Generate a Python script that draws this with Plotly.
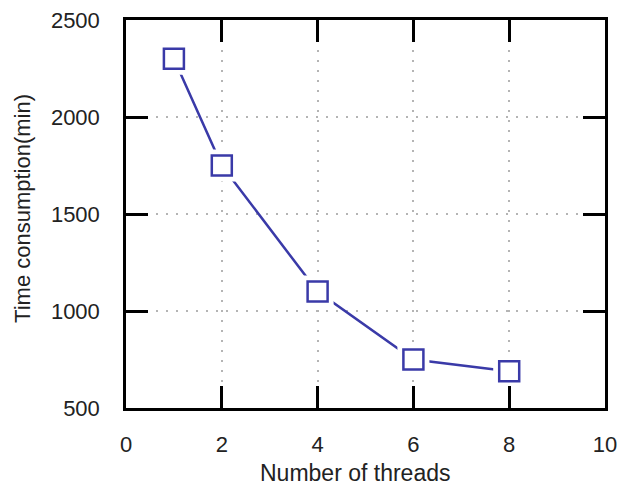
import plotly.graph_objects as go

threads = [1, 2, 4, 6, 8]
time_min = [2300, 1750, 1100, 750, 690]
x_ticks = [0, 2, 4, 6, 8, 10]
y_ticks = [500, 1000, 1500, 2000, 2500]
x_title = "Number of threads"
y_title = "Time consumption(min)"

color = "#3a3aa8"
fig = go.Figure()
fig.add_trace(go.Scatter(x=threads, y=time_min, mode="lines",
                         line=dict(color=color, width=2.5), hoverinfo="skip"))
fig.add_trace(go.Scatter(x=threads, y=time_min, mode="markers",
                         marker=dict(symbol="square", size=32, color="white",
                                     line=dict(width=0)), hoverinfo="skip"))
fig.add_trace(go.Scatter(x=threads, y=time_min, mode="markers",
                         marker=dict(symbol="square-open", size=20, color=color,
                                     line=dict(width=2.5, color=color))))

font = dict(family="Liberation Sans, Arial", size=22, color="#222")
axis_common = dict(
    showline=True, linecolor="black", linewidth=2.5, mirror="ticks",
    ticks="inside", ticklen=22, tickwidth=2.5, tickcolor="black",
    showgrid=True, gridcolor="#b4b4b4", griddash="2px,8px", gridwidth=2,
    zeroline=False, tickfont=font, automargin=False,
)
fig.update_xaxes(range=[0, 10], tickvals=x_ticks, ticklabelstandoff=15, **axis_common)
fig.update_yaxes(range=[500, 2500], tickvals=y_ticks, ticklabelstandoff=19, **axis_common)

fig.add_annotation(text=x_title, xref="paper", yref="paper", x=0.479, y=0,
                   yshift=-65, xanchor="center", yanchor="middle", showarrow=False,
                   font=dict(family="Liberation Sans, Arial", size=23, color="#222"))
fig.add_annotation(text=y_title, xref="paper", yref="paper", x=0, y=0.513,
                   xshift=-103, xanchor="center", yanchor="middle", showarrow=False,
                   textangle=-90, font=font)

fig.update_layout(width=620, height=485, margin=dict(l=126, r=15, t=20, b=77),
                  plot_bgcolor="white", paper_bgcolor="white", showlegend=False)
fig.write_html("out.html", config={"displayModeBar": False})

# remove the default 8px page margin so the figure fills the window exactly
with open("out.html", encoding="utf-8") as f:
    html = f.read()
html = html.replace("<head>", "<head><style>html,body{margin:0;padding:0;overflow:hidden}</style>", 1)
with open("out.html", "w", encoding="utf-8") as f:
    f.write(html)
